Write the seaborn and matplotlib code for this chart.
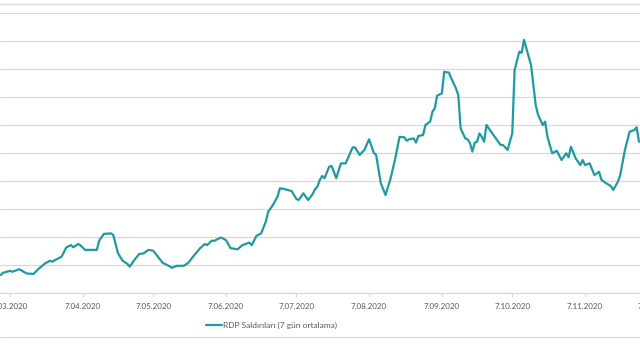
import matplotlib
matplotlib.use("Agg")
import matplotlib.pyplot as plt
import matplotlib.dates as mdates
import numpy as np
import pandas as pd
import seaborn as sns

# ---- data ----
start_date = "2020-03-07"
day_offsets = [-4, -3, 0, 1, 4, 5, 7, 10, 12, 15, 17, 18, 20, 22, 24, 26, 27, 29, 30, 32,
               34, 37, 38, 40, 43, 44, 46, 48, 50, 51, 53, 55, 57, 59, 61, 63, 65, 67, 69, 71,
               74, 76, 78, 81, 83, 84, 86, 87, 89, 90, 92, 94, 97, 99, 102, 103, 105, 107, 109, 110,
               112, 114, 115, 117, 120, 122, 123, 125, 127, 129, 130, 131, 132, 133, 134, 136, 137, 139, 141, 143,
               146, 147, 149, 151, 153, 155, 156, 158, 160, 162, 164, 166, 168, 169, 170, 172, 173, 174, 176, 177,
               179, 180, 181, 182, 184, 185, 187, 188, 190, 191, 192, 194, 195, 196, 197, 198, 199, 200, 201, 202,
               203, 205, 207, 209, 210, 212, 214, 215, 217, 218, 219, 222, 224, 225, 227, 228, 229, 231, 233, 235,
               237, 238, 239, 241, 243, 244, 245, 247, 249, 251, 252, 254, 256, 257, 259, 260, 262, 264, 266, 267,
               268]
rdp_values = [64, 72, 79, 76, 85, 80, 70, 68, 85, 106, 115, 112, 121, 130, 163, 171, 163, 175, 170, 154,
              154, 154, 187, 211, 213, 207, 142, 115, 104, 94, 118, 139, 142, 154, 151, 130, 108, 100, 90, 97,
              97, 108, 130, 160, 175, 171, 187, 186, 195, 198, 189, 160, 156, 171, 180, 171, 204, 213, 255, 290,
              314, 344, 374, 371, 364, 336, 332, 356, 332, 354, 371, 380, 404, 418, 410, 451, 454, 410, 463, 463,
              520, 520, 493, 511, 549, 501, 493, 392, 350, 404, 475, 558, 556, 544, 549, 552, 537, 561, 564, 600,
              612, 647, 660, 705, 713, 790, 787, 767, 731, 707, 588, 552, 549, 535, 505, 537, 540, 570, 558, 540,
              600, 576, 552, 529, 529, 511, 570, 796, 862, 858, 904, 814, 671, 636, 600, 612, 558, 499, 508, 475,
              499, 485, 522, 481, 457, 475, 457, 463, 421, 433, 404, 392, 382, 368, 397, 421, 511, 576, 582, 592,
              540]
tick_dates = ["2020-03-07", "2020-04-07", "2020-05-07", "2020-06-07", "2020-07-07",
              "2020-08-07", "2020-09-07", "2020-10-07", "2020-11-07", "2020-12-07"]
series_label = "RDP Saldırıları (7 gün ortalama)"

dates = pd.to_datetime(start_date) + pd.to_timedelta(day_offsets, unit="D")
df = pd.DataFrame({"Tarih": dates, "Deger": rdp_values})

# ---- style ----
sns.set_theme(style="white")
plt.rcParams["font.family"] = ["Lato", "DejaVu Sans"]
text_color = "#595959"
grid_color = "#d9d9d9"
line_color = "#1f9aa1"

W, H = 640, 350
fig = plt.figure(figsize=(6.4, 3.5), dpi=100)
# the chart is cropped: the plot area runs past the right edge of the picture
ax_right_px = 670
ax = fig.add_axes([0.0, (H - 293) / H, ax_right_px / W, 280 / H])

sns.lineplot(data=df, x="Tarih", y="Deger", ax=ax, color=line_color,
             linewidth=1.6, label=series_label)

ax.set_yticks(np.arange(0, 1001, 100))
ax.yaxis.grid(True, color=grid_color, linewidth=0.9)
ax.xaxis.grid(False)
ax.tick_params(axis="y", length=0, labelleft=False)

td = pd.to_datetime(tick_dates)
ax.set_xticks(mdates.date2num(td))
ax.set_xticklabels([f"{d.day}.{d.month:02d}.{d.year}" for d in td],
                   fontsize=5.8, color=text_color)
ax.tick_params(axis="x", length=3, width=0.8, color=grid_color, pad=4, bottom=True)
ax.set_xlabel("")
ax.set_ylabel("")

px_per_day = 2.347
base = pd.to_datetime(start_date)
left_day = -10 / px_per_day
right_day = left_day + ax_right_px / px_per_day
ax.set_xlim(base + pd.Timedelta(days=left_day), base + pd.Timedelta(days=right_day))
ax.set_ylim(0, 1000)

for s in ["top", "left", "right"]:
    ax.spines[s].set_visible(False)
ax.spines["bottom"].set_color(grid_color)
ax.spines["bottom"].set_linewidth(0.9)

leg = ax.legend(loc="center", bbox_to_anchor=(271.5 / W, 25 / H),
                bbox_transform=fig.transFigure, frameon=False,
                fontsize=6.0, handlelength=1.9, handletextpad=0.1)
for t in leg.get_texts():
    t.set_color(text_color)

# chart frame borders (visible top and bottom edges)
for yf in [1 - 3.5 / H, 1 - 337 / H]:
    fig.add_artist(plt.Line2D([0, 1], [yf, yf], transform=fig.transFigure,
                              color=grid_color, linewidth=0.9))

fig.savefig("out.png", dpi=100, facecolor="white")
